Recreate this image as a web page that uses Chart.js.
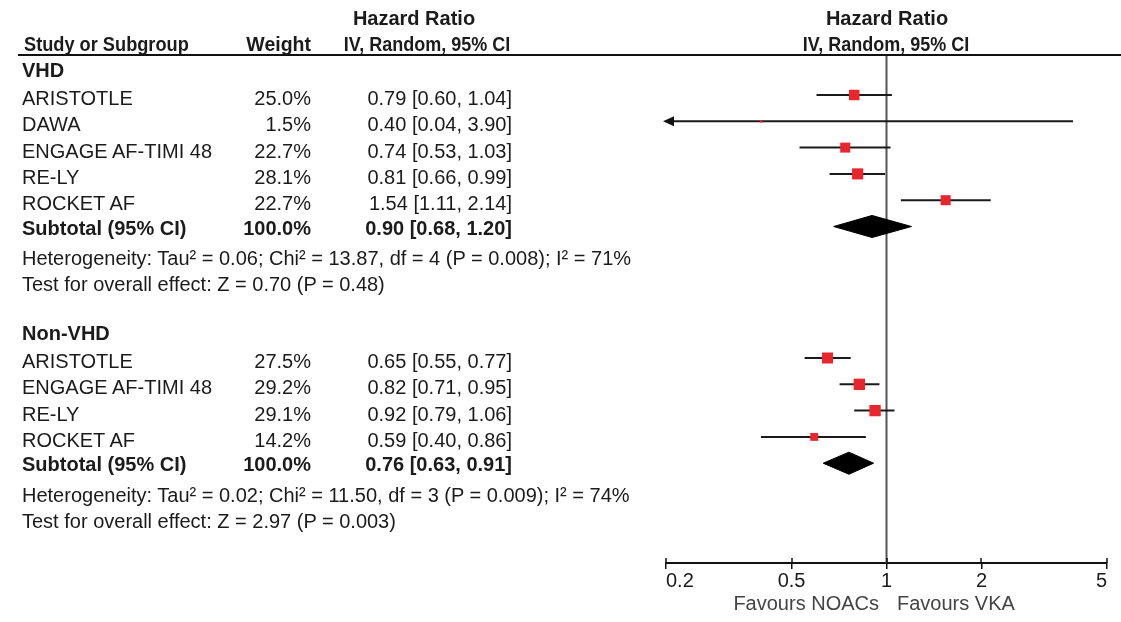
<!DOCTYPE html>
<html>
<head>
<meta charset="utf-8">
<script src="https://cdn.jsdelivr.net/npm/chart.js@4.4.0/dist/chart.umd.min.js"></script>
<style>
  body { margin: 0; background: #fff; }
  #wrap { position: relative; width: 1121px; height: 622px; font-family: "Liberation Sans", Arial, sans-serif; font-size: 20px; color: #1b1b1b; }
  #plot { position: absolute; left: 0; top: 0; }
  .t { position: absolute; white-space: nowrap; line-height: 20px; }
  .b { font-weight: bold; }
  .m { font-size: 19.5px; }
  #rule { position: absolute; left: 18px; top: 54px; width: 1103px; height: 2px; background: #111; }
</style>
</head>
<body>
<div id="wrap">
  <canvas id="plot" width="1121" height="622"></canvas>
  <div id="rule"></div>
</div>
<script>
// VHD subgroup
const vhdStudies = ["ARISTOTLE", "DAWA", "ENGAGE AF-TIMI 48", "RE-LY", "ROCKET AF"];
const vhdWeight = [25.0, 1.5, 22.7, 28.1, 22.7];
const vhdHR = [0.79, 0.40, 0.74, 0.81, 1.54];
const vhdLow = [0.60, 0.04, 0.53, 0.66, 1.11];
const vhdHigh = [1.04, 3.90, 1.03, 0.99, 2.14];
const vhdTotal = [0.90, 0.68, 1.20]; // hr, low, high
const vhdHetero = "Heterogeneity: Tau² = 0.06; Chi² = 13.87, df = 4 (P = 0.008); I² = 71%";
const vhdEffect = "Test for overall effect: Z = 0.70 (P = 0.48)";

// Non-VHD subgroup
const nonStudies = ["ARISTOTLE", "ENGAGE AF-TIMI 48", "RE-LY", "ROCKET AF"];
const nonWeight = [27.5, 29.2, 29.1, 14.2];
const nonHR = [0.65, 0.82, 0.92, 0.59];
const nonLow = [0.55, 0.71, 0.79, 0.40];
const nonHigh = [0.77, 0.95, 1.06, 0.86];
const nonTotal = [0.76, 0.63, 0.91];
const nonHetero = "Heterogeneity: Tau² = 0.02; Chi² = 11.50, df = 3 (P = 0.009); I² = 74%";
const nonEffect = "Test for overall effect: Z = 2.97 (P = 0.003)";

const xTicks = [0.2, 0.5, 1, 2, 5];

const groups = [
  { label: "VHD", start: 0, studies: vhdStudies, weight: vhdWeight, hr: vhdHR, low: vhdLow, high: vhdHigh, total: vhdTotal, hetero: vhdHetero, effect: vhdEffect },
  { label: "Non-VHD", start: 10, studies: nonStudies, weight: nonWeight, hr: nonHR, low: nonLow, high: nonHigh, total: nonTotal, hetero: nonHetero, effect: nonEffect }
];

// row k sits at ROW0 + ROWH*k px
const ROW0 = 68.7, ROWH = 26.3, TOP = 55, BOTTOM = 563;
const yMin = (TOP - ROW0) / ROWH;
const yMax = (BOTTOM - ROW0) / ROWH;
const rowPx = k => ROW0 + ROWH * k;

const wrap = document.getElementById("wrap");
function put(text, x, y, align, cls, color, squeeze) {
  const d = document.createElement("div");
  d.className = "t " + (cls || "");
  d.textContent = text;
  d.style.left = x + "px";
  d.style.top = (y - 10) + "px";
  let tf = "";
  if (align === "right") { tf = "translateX(-100%)"; d.style.transformOrigin = "right"; }
  if (align === "center") { tf = "translateX(-50%)"; d.style.transformOrigin = "center"; }
  if (align === "left") d.style.transformOrigin = "left";
  if (squeeze) tf += " scaleX(" + squeeze + ")";
  if (tf) d.style.transform = tf;
  if (color) d.style.color = color;
  wrap.appendChild(d);
}
const fmt = v => v.toFixed(2);
const ci = (h, l, u) => fmt(h) + " [" + fmt(l) + ", " + fmt(u) + "]";

// headers
put("Hazard Ratio", 414, 18, "center", "b");
put("Study or Subgroup", 24, 44, "left", "b", null, 0.91);
put("Weight", 311, 44, "right", "b m");
put("IV, Random, 95% CI", 427, 44, "center", "b", null, 0.9);
put("Hazard Ratio", 887, 18, "center", "b");
put("IV, Random, 95% CI", 886, 44, "center", "b", null, 0.9);
put("Favours NOACs", 879, 603, "right", "", "#444");
put("Favours VKA", 897, 603, "left", "", "#444");

// table rows
groups.forEach(g => {
  put(g.label, 22, rowPx(g.start) + 1, "left", "b");
  g.studies.forEach((s, i) => {
    const y = rowPx(g.start + 1 + i) + 3;
    put(s, 22, y, "left");
    put(g.weight[i].toFixed(1) + "%", 311, y, "right");
    put(ci(g.hr[i], g.low[i], g.high[i]), 512, y, "right");
  });
  const ks = g.start + 1 + g.studies.length;
  put("Subtotal (95% CI)", 22, rowPx(ks) + 1, "left", "b");
  put("100.0%", 311, rowPx(ks) + 1, "right", "b");
  put(ci(g.total[0], g.total[1], g.total[2]), 512, rowPx(ks) + 1, "right", "b");
  put(g.hetero, 22, rowPx(ks + 1.2), "left");
  put(g.effect, 22, rowPx(ks + 2.2), "left");
});

// datasets
const datasets = [];
datasets.push({
  data: [{ x: 1, y: yMin }, { x: 1, y: yMax }],
  showLine: true, borderColor: "#555", borderWidth: 2, pointRadius: 0, order: 5
});
const markers = [], sizes = [];
groups.forEach(g => {
  g.studies.forEach((s, i) => {
    const k = g.start + 1 + i;
    datasets.push({
      data: [{ x: g.low[i], y: k }, { x: g.high[i], y: k }],
      showLine: true, borderColor: "#1a1a1a", borderWidth: 2, pointRadius: 0, order: 3
    });
    markers.push({ x: g.hr[i], y: k });
    sizes.push(2.1 * Math.sqrt(g.weight[i]) / Math.SQRT2);
  });
  const ks = g.start + 1 + g.studies.length;
  const t = g.total, h = 0.42;
  datasets.push({
    data: [{ x: t[1], y: ks }, { x: t[0], y: ks - h }, { x: t[2], y: ks }, { x: t[0], y: ks + h }, { x: t[1], y: ks }],
    showLine: true, fill: "shape", backgroundColor: "#000", borderColor: "#000", borderWidth: 1, pointRadius: 0, tension: 0, order: 2
  });
});
datasets.push({
  data: markers, pointStyle: "rect", pointRadius: sizes, pointBackgroundColor: "#e8262b",
  pointBorderWidth: 0, showLine: false, order: 1
});

const axisTicks = {
  id: "axisTicks",
  afterDraw(chart) {
    const c = chart.ctx, s = chart.scales.x, b = chart.chartArea.bottom;
    c.save();
    c.strokeStyle = "#111";
    c.lineWidth = 1.5;
    xTicks.forEach(v => {
      const px = Math.round(s.getPixelForValue(v));
      c.beginPath(); c.moveTo(px, b - 5); c.lineTo(px, b); c.stroke();
    });
    c.restore();
  }
};
const arrows = {
  id: "arrows",
  afterDatasetsDraw(chart) {
    const c = chart.ctx, s = chart.scales.x, ys = chart.scales.y, a = chart.chartArea;
    c.save();
    c.fillStyle = "#111";
    groups.forEach(g => g.studies.forEach((st, i) => {
      const y = ys.getPixelForValue(g.start + 1 + i);
      if (g.low[i] < s.min) {
        c.beginPath(); c.moveTo(a.left - 3, y); c.lineTo(a.left + 8, y - 5); c.lineTo(a.left + 8, y + 5); c.closePath(); c.fill();
      }
      if (g.high[i] > s.max) {
        c.beginPath(); c.moveTo(a.right + 3, y); c.lineTo(a.right - 8, y - 5); c.lineTo(a.right - 8, y + 5); c.closePath(); c.fill();
      }
    }));
    c.restore();
  }
};

Chart.defaults.font.family = '"Liberation Sans", Arial, sans-serif';
new Chart("plot", {
  type: "scatter",
  data: { datasets: datasets },
  options: {
    responsive: false,
    animation: false,
    events: [],
    layout: { padding: { left: 666, right: 14, top: TOP, bottom: 622 - BOTTOM - 30 } },
    plugins: { legend: { display: false }, tooltip: { enabled: false } },
    scales: {
      x: {
        type: "logarithmic", min: 0.2, max: 5, position: "bottom",
        afterBuildTicks: s => { s.ticks = xTicks.map(v => ({ value: v })); },
        afterFit: s => { s.height = 30; },
        ticks: { align: "inner", color: "#1b1b1b", font: { size: 20 }, padding: 0, autoSkip: false, maxRotation: 0, callback: v => String(v) },
        grid: { drawOnChartArea: false, tickLength: 6, color: "#111", lineWidth: 1.5 },
        border: { display: true, color: "#111", width: 2 }
      },
      y: { type: "linear", reverse: true, min: yMin, max: yMax, display: false }
    }
  },
  plugins: [axisTicks, arrows]
});
</script>
</body>
</html>
